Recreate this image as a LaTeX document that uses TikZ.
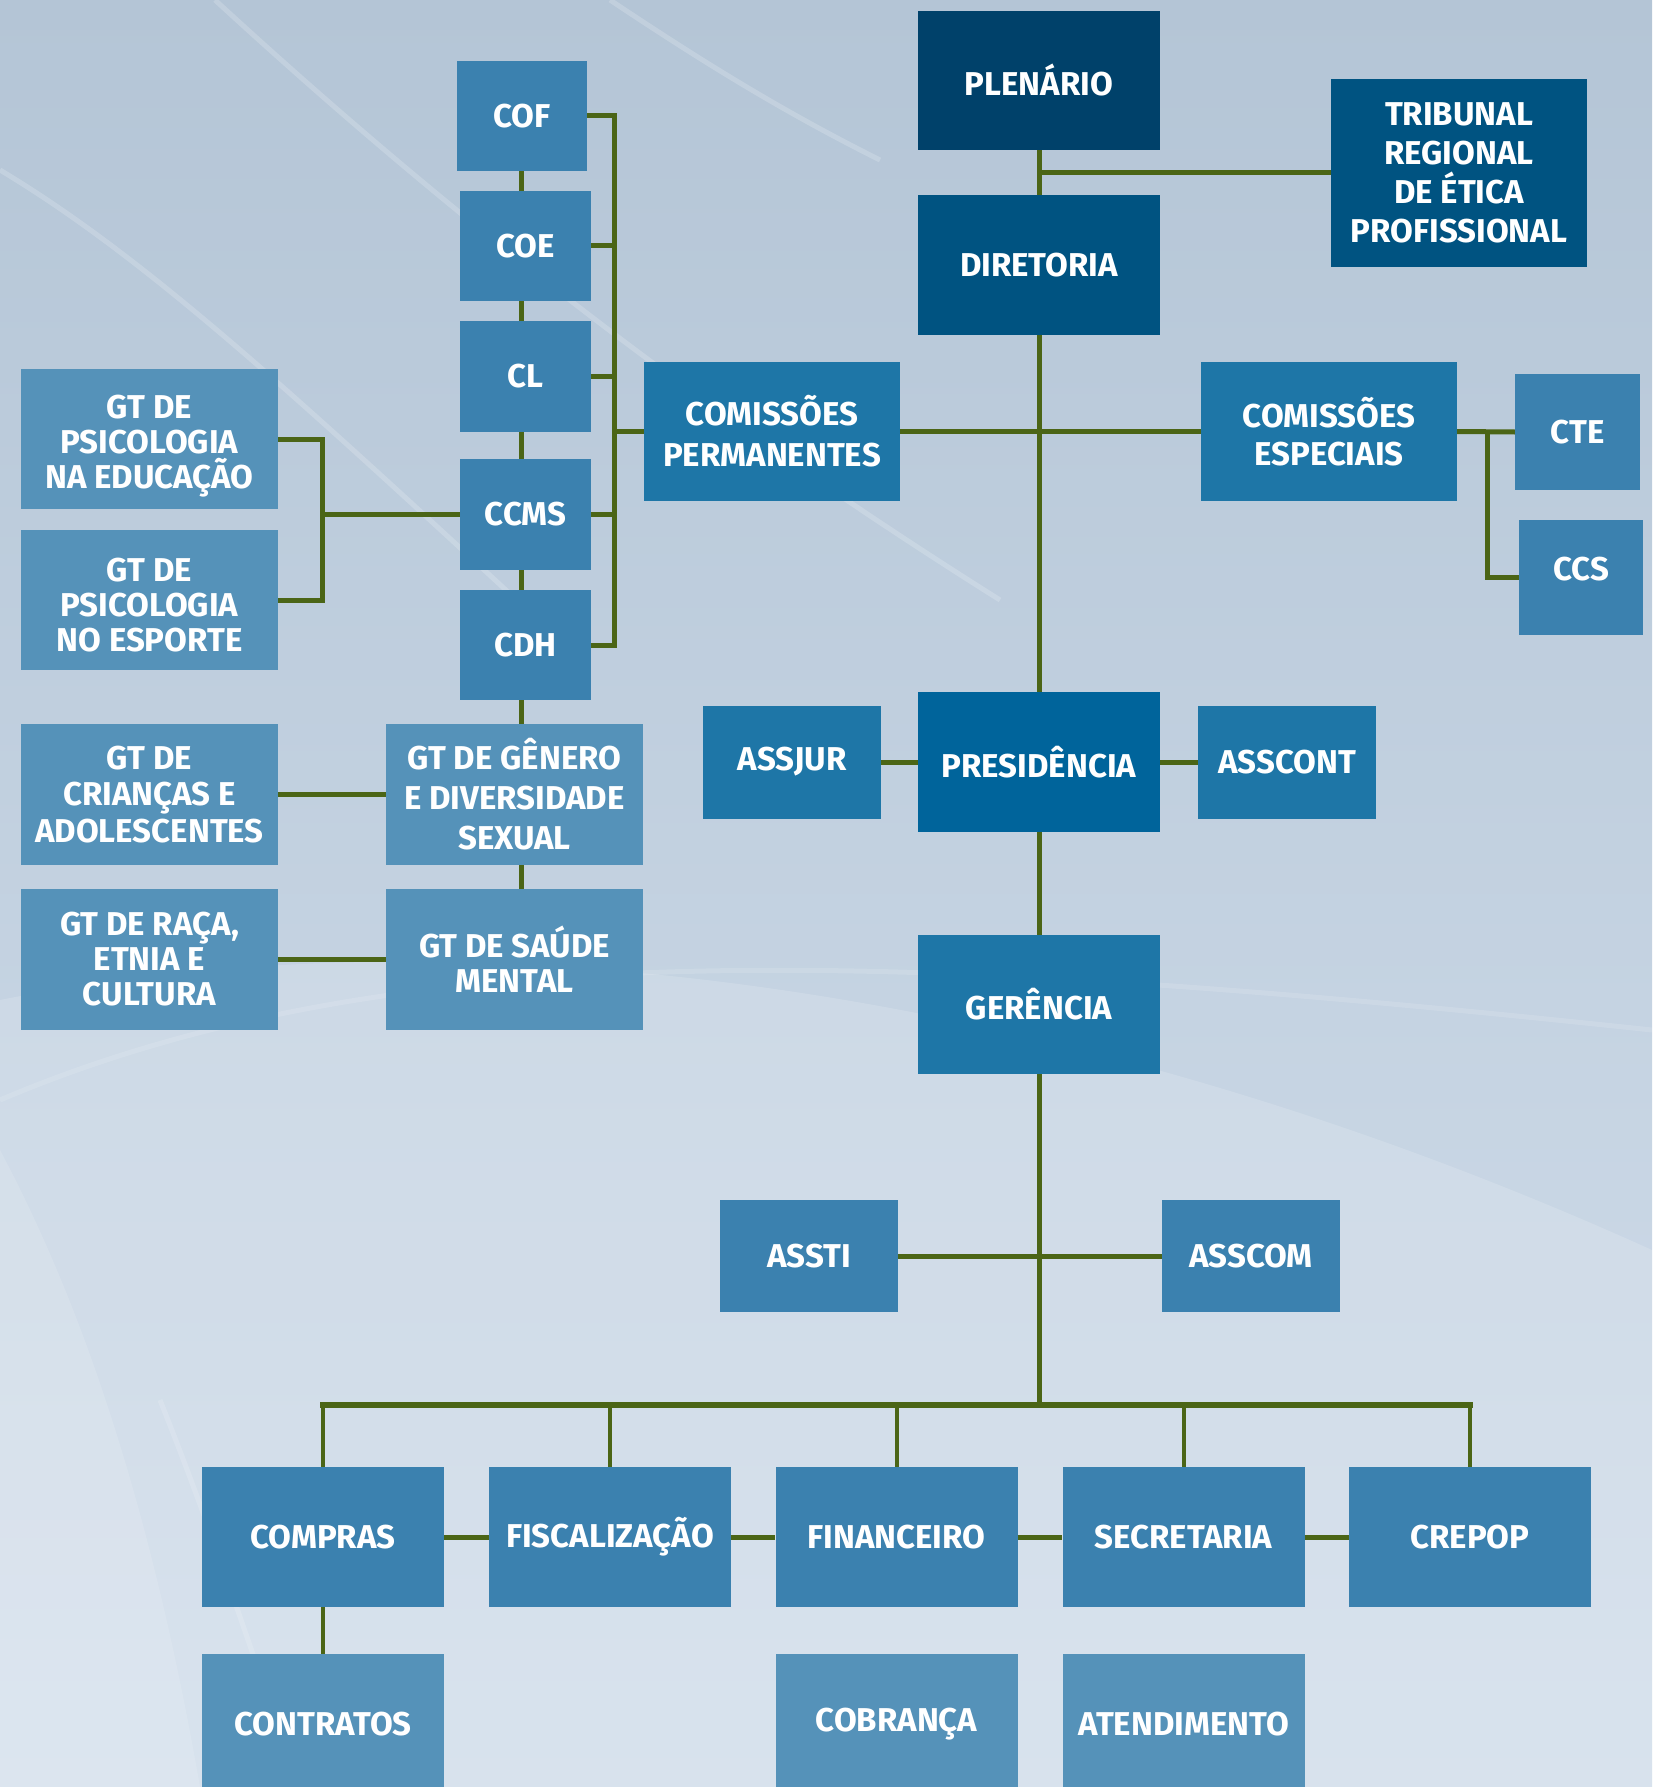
\documentclass[tikz,border=0pt]{standalone}
\usepackage{fontspec}
\setmainfont{Fira Sans}
\usetikzlibrary{calc}
\definecolor{plencol}{HTML}{00416A}
\definecolor{dircol}{HTML}{005381}
\definecolor{prescol}{HTML}{00649B}
\definecolor{midcol}{HTML}{1E76A7}
\definecolor{ltcol}{HTML}{3B81AF}
\definecolor{gtcol}{HTML}{5592B9}
\definecolor{lincol}{HTML}{4B6516}
\definecolor{bgtop}{HTML}{B4C5D6}
\definecolor{bgbot}{HTML}{D2DEEB}
\tikzset{
  box/.style={rectangle, inner sep=0pt, align=center, text=white,
    font=\fontsize{33}{38}\selectfont\bfseries},
  bplen/.style={box, fill=plencol},
  bdir/.style={box, fill=dircol},
  bpres/.style={box, fill=prescol},
  bmid/.style={box, fill=midcol},
  blt/.style={box, fill=ltcol},
  bgt/.style={box, fill=gtcol},
  conn/.style={draw=lincol, line width=5pt},
  thinconn/.style={draw=lincol, line width=4pt},
  busline/.style={draw=lincol, line width=6.5pt, line cap=rect},
  swoosh/.style={draw=white, opacity=0.18, line width=5pt},
}
\begin{document}
\begin{tikzpicture}[x=1pt,y=-1pt]
\useasboundingbox (0,0) rectangle (1652,1787);
\clip (0,0) rectangle (1652,1787);
% background
\shade[top color=bgtop, bottom color=bgbot] (0,0) rectangle (1652,1787);
\fill[white, opacity=0.15] (0,1000) .. controls (500,900) and (1100,1000) .. (1652,1250) -- (1652,1787) -- (0,1787) -- cycle;
\fill[white, opacity=0.12] (0,1150) .. controls (80,1300) and (150,1500) .. (200,1787) -- (0,1787) -- cycle;
\draw[swoosh] (215,0) .. controls (400,170) and (650,380) .. (1000,600);
\draw[swoosh] (610,0) .. controls (700,60) and (780,110) .. (880,160);
\draw[swoosh] (0,170) .. controls (150,260) and (300,400) .. (560,640);
\draw[swoosh, opacity=0.12] (0,1100) .. controls (400,930) and (900,950) .. (1652,1030);
\draw[swoosh, opacity=0.15] (160,1400) .. controls (220,1550) and (260,1680) .. (300,1787);

% main column
\node[bplen, minimum width=242pt, minimum height=139pt] (plen) at (1039,80.5) {PLENÁRIO};
\node[bdir, minimum width=256pt, minimum height=188pt, font=\fontsize{33}{39}\selectfont\bfseries] (trib) at (1459,173) {TRIBUNAL\\REGIONAL\\DE ÉTICA\\PROFISSIONAL};
\node[bdir, minimum width=242pt, minimum height=140pt] (dir) at (1039,265) {DIRETORIA};
\node[bmid, minimum width=256pt, minimum height=139pt, font=\fontsize{33}{41}\selectfont\bfseries] (cp) at (772,431.5) {COMISSÕES\\PERMANENTES};
\node[bmid, minimum width=256pt, minimum height=139pt, font=\fontsize{33}{38}\selectfont\bfseries] (ce) at (1329,431.5) {COMISSÕES\\ESPECIAIS};
\node[blt, minimum width=125pt, minimum height=116pt] (cte) at (1577.5,432) {CTE};
\node[blt, minimum width=124pt, minimum height=115pt] (ccs) at (1581,577.5) {\raisebox{18pt}{CCS}};
\node[bpres, minimum width=242pt, minimum height=140pt] (pres) at (1039,762) {\raisebox{-4pt}{PRESIDÊNCIA}};
\node[bmid, minimum width=178pt, minimum height=113pt] (assjur) at (792,762) {ASSJUR};
\node[bmid, minimum width=178pt, minimum height=113pt] (asscont) at (1287,762) {ASSCONT};
\node[bmid, minimum width=242pt, minimum height=139pt] (ger) at (1039,1004.5) {GERÊNCIA};
\node[blt, minimum width=178pt, minimum height=112pt] (assti) at (809,1256) {ASSTI};
\node[blt, minimum width=178pt, minimum height=112pt] (asscom) at (1251,1256) {ASSCOM};

% bottom rows
\node[blt, minimum width=242pt, minimum height=140pt] (compras) at (323,1537) {COMPRAS};
\node[blt, minimum width=242pt, minimum height=140pt] (fisc) at (610,1537) {FISCALIZAÇÃO};
\node[blt, minimum width=242pt, minimum height=140pt] (fin) at (896.5,1537) {FINANCEIRO};
\node[blt, minimum width=242pt, minimum height=140pt] (sec) at (1183.5,1537) {SECRETARIA};
\node[blt, minimum width=242pt, minimum height=140pt] (crepop) at (1470,1537) {CREPOP};
\node[bgt, minimum width=242pt, minimum height=140pt] (contr) at (323,1724) {CONTRATOS};
\node[bgt, minimum width=242pt, minimum height=140pt] (cobr) at (896.5,1724) {\raisebox{4pt}{COBRANÇA}};
\node[bgt, minimum width=242pt, minimum height=140pt] (atend) at (1183.5,1724) {ATENDIMENTO};

% left cluster
\node[blt, minimum width=130pt, minimum height=110pt] (cof) at (522,116) {COF};
\node[blt, minimum width=131pt, minimum height=110pt] (coe) at (525.5,246) {COE};
\node[blt, minimum width=131pt, minimum height=111pt] (cl) at (525.5,376.5) {CL};
\node[blt, minimum width=131pt, minimum height=111pt] (ccms) at (525.5,514.5) {CCMS};
\node[blt, minimum width=131pt, minimum height=110pt] (cdh) at (525.5,645) {CDH};
\tikzset{gtfont/.style={font=\fontsize{33}{35}\selectfont\bfseries}}
\node[bgt, gtfont, minimum width=257pt, minimum height=140pt] (gtedu) at (149.5,439) {\rule{0pt}{37pt}GT DE\\PSICOLOGIA\\NA EDUCAÇÃO};
\node[bgt, gtfont, minimum width=257pt, minimum height=140pt] (gtesp) at (149.5,600) {\rule{0pt}{33pt}GT DE\\PSICOLOGIA\\NO ESPORTE};
\node[bgt, minimum width=257pt, minimum height=141pt, font=\fontsize{33}{36.5}\selectfont\bfseries] (gtcri) at (149.5,794.5) {GT DE\\CRIANÇAS E\\ADOLESCENTES};
\node[bgt, gtfont, minimum width=257pt, minimum height=141pt, font=\fontsize{33}{40}\selectfont\bfseries] (gtgen) at (514.5,794.5) {GT DE GÊNERO\\E DIVERSIDADE\\SEXUAL};
\node[bgt, gtfont, minimum width=257pt, minimum height=141pt] (gtraca) at (149.5,959.5) {GT DE RAÇA,\\ETNIA E\\CULTURA};
\node[bgt, gtfont, minimum width=257pt, minimum height=141pt] (gtsau) at (514.5,959.5) {GT DE SAÚDE\\MENTAL};

% connectors: main column
\draw[conn] (plen.south) -- (dir.north);
\draw[conn] (trib.west) -- (trib.west -| plen.south);
\draw[conn] (dir.south) -- (pres.north);
\draw[conn] (cp.east) -- (ce.west);
\draw[conn] (ce.east) -- (cte.west);
\coordinate (brk3) at (1487,0);
\draw[conn] (ce.east -| brk3) |- (ccs.west);
\draw[conn] (assjur.east) -- (pres.west);
\draw[conn] (pres.east) -- (asscont.west);
\draw[conn] (pres.south) -- (ger.north);
\coordinate (busL) at (323,1405);
\coordinate (busR) at (1470,1405);
\draw[conn] (ger.south) -- (ger.south |- busL);
\draw[conn] (assti.east) -- (asscom.west);
\draw[busline] (busL) -- (busR);
\foreach \n in {compras,fisc,fin,sec,crepop}
  \draw[thinconn] (\n.north) -- (\n.north |- busL);
\draw[conn] (compras.east) -- (fisc.west);
\draw[conn] (fisc.east) -- (fin.west);
\draw[conn] (fin.east) -- (sec.west);
\draw[conn] (sec.east) -- (crepop.west);
\draw[thinconn] (compras.south) -- (contr.north);

% connectors: left cluster
\coordinate (chx) at (521.5,0);
\draw[conn] (cof.south -| chx) -- (coe.north -| chx);
\draw[conn] (coe.south -| chx) -- (cl.north -| chx);
\draw[conn] (cl.south -| chx) -- (ccms.north -| chx);
\draw[conn] (ccms.south -| chx) -- (cdh.north -| chx);
\draw[conn] (cdh.south -| chx) -- (gtgen.north -| chx);
\draw[conn] (gtgen.south -| chx) -- (gtsau.north -| chx);
\coordinate (brk) at (614,0);
\draw[conn] (cof.east) -- (cof.east -| brk) -- (cdh.east -| brk) -- (cdh.east);
\foreach \n in {coe,cl,ccms}
  \draw[conn] (\n.east) -- (\n.east -| brk);
\draw[conn] (cp.west) -- (cp.west -| brk);
\coordinate (brk2) at (322,0);
\draw[conn] (gtedu.east) -- (gtedu.east -| brk2) -- (gtesp.east -| brk2) -- (gtesp.east);
\draw[conn] (ccms.west) -- (ccms.west -| brk2);
\draw[conn] (gtcri.east) -- (gtgen.west);
\draw[conn] (gtraca.east) -- (gtsau.west);
\end{tikzpicture}
\end{document}
